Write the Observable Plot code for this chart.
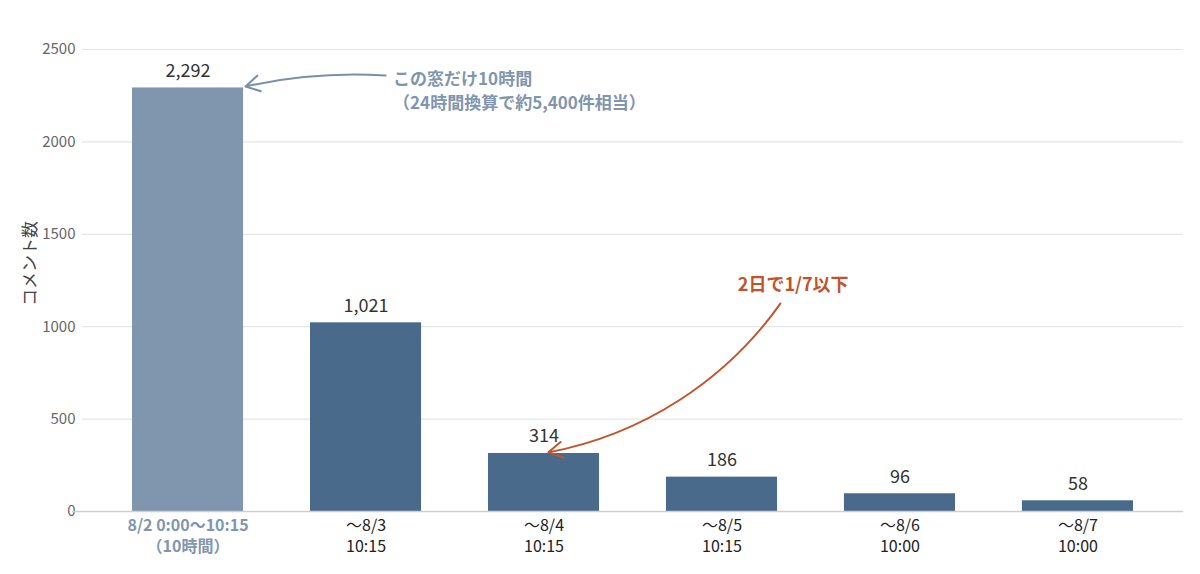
<!DOCTYPE html>
<html><head><meta charset="utf-8">
<script src="https://cdn.jsdelivr.net/npm/d3@7"></script>
<script src="https://cdn.jsdelivr.net/npm/@observablehq/plot@0.6"></script>
<style>
body{margin:0;background:#fff;}
svg{font-family:"Noto Sans CJK JP","Noto Sans",sans-serif;}
</style></head>
<body><div id="chart"></div>
<script>
const categories = ["8/2 0:00〜10:15\n（10時間）", "〜8/3\n10:15", "〜8/4\n10:15", "〜8/5\n10:15", "〜8/6\n10:00", "〜8/7\n10:00"];
const values = [2292, 1021, 314, 186, 96, 58];
const valueLabels = ["2,292", "1,021", "314", "186", "96", "58"];
const yTicks = [0, 500, 1000, 1500, 2000, 2500];
const note1 = "この窓だけ10時間\n（24時間換算で約5,400件相当）";
const note2 = "2日で1/7以下";
const yLabel = "コメント数";

const data = values.map((v, i) => ({i, v, cat: categories[i], label: valueLabels[i], first: i === 0}));
const half = 0.312;

const chart = Plot.plot({
  width: 1200,
  height: 574,
  marginLeft: 82,
  marginRight: 17,
  marginTop: 49,
  marginBottom: 63,
  x: {domain: [-0.593, 5.593], axis: null},
  y: {domain: [0, 2500], axis: null},
  marks: [
    Plot.ruleY(yTicks.filter(d => d > 0), {stroke: "#e6e6e6", strokeWidth: 1.2}),
    Plot.text(yTicks, {x: -0.593, y: d => d, text: d => String(d), textAnchor: "end", dx: -7, fontSize: 15, fill: "#666"}),
    Plot.rectY(data, {x1: d => d.i - half, x2: d => d.i + half, y: "v", fill: d => d.first ? "#7f96ae" : "#4a6a8b"}),
    Plot.ruleY([0], {x1: -0.649, x2: 5.593, stroke: "#cfcfcf", strokeWidth: 1.5}),
    Plot.text(data, {x: "i", y: "v", text: "label", dy: -17, fontSize: 18, fill: "#333"}),
    Plot.text(data.filter(d => d.first), {x: "i", y: 0, text: "cat", lineAnchor: "top", dy: 5, fontSize: 16, lineHeight: 1.3, fill: "#7f96ae", fontWeight: "bold"}),
    Plot.text(data.filter(d => !d.first), {x: "i", y: 0, text: "cat", lineAnchor: "top", dy: 5, fontSize: 16, lineHeight: 1.3, fill: "#222"}),
    Plot.text([note1], {x: 1.152, y: 2350, text: d => d, textAnchor: "start", lineAnchor: "middle", dy: 12, fontSize: 17, lineHeight: 1.41, fontWeight: "bold", fill: "#7f96ae"}),
    Plot.arrow([{x1: 1.11, y1: 2359, x2: 0.323, y2: 2300}], {x1: "x1", y1: "y1", x2: "x2", y2: "y2", bend: -8, stroke: "#7890a8", strokeWidth: 2, headLength: 12}),
    Plot.text([note2], {x: 3.4, y: 1223, text: d => d, fontSize: 18, fontWeight: "bold", fill: "#c4532b"}),
    Plot.arrow([{x1: 3.328, y1: 1125, x2: 2.025, y2: 320}], {x1: "x1", y1: "y1", x2: "x2", y2: "y2", bend: 22, stroke: "#c4532b", strokeWidth: 2, headLength: 12}),
    Plot.text([yLabel], {x: -0.593, y: 1342, dx: -52, rotate: -90, text: d => d, fontSize: 17, fill: "#444"})
  ]
});
document.getElementById("chart").append(chart);
</script></body></html>
